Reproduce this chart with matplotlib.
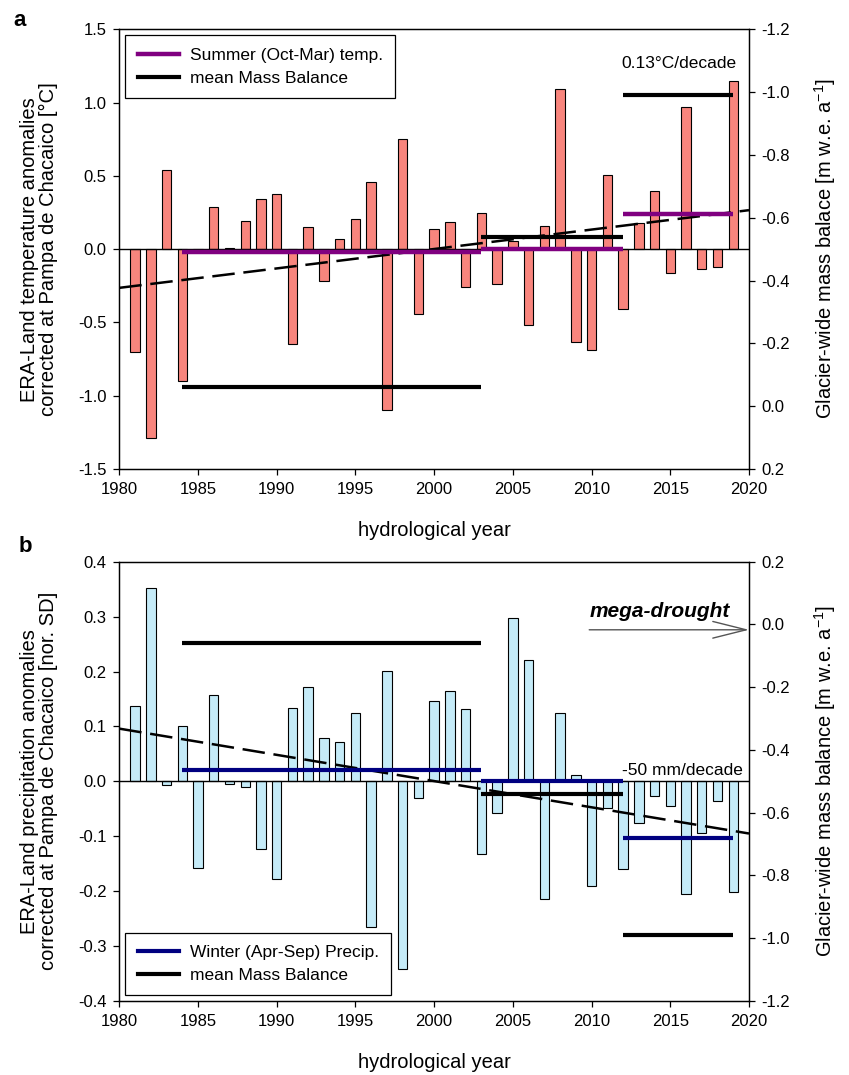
import matplotlib
matplotlib.use("Agg")
import matplotlib.pyplot as plt
from matplotlib.lines import Line2D
import numpy as np

plt.rcParams['font.family'] = ['Liberation Sans', 'DejaVu Sans']
plt.rcParams['mathtext.default'] = 'regular'
plt.rcParams['axes.unicode_minus'] = False

                                                # Data
years = np.arange(1981, 2020)

temp_anom = [-0.70, -1.29, 0.54, -0.90, -0.02, 0.29, 0.01, 0.19, 0.345, 0.375,
             -0.645, 0.15, -0.22, 0.07, 0.205, 0.455, -1.10, 0.75, -0.44, 0.14,
             0.185, -0.26, 0.25, -0.235, 0.055, -0.52, 0.155, 1.095, -0.635, -0.69,
             0.505, -0.41, 0.18, 0.40, -0.16, 0.97, -0.135, -0.12, 1.15]

precip_anom = [0.138, 0.352, -0.006, 0.101, -0.158, 0.157, -0.004, -0.011, -0.124, -0.177,
               0.134, 0.172, 0.079, 0.072, 0.125, -0.266, 0.201, -0.342, -0.030, 0.146,
               0.165, 0.132, -0.132, -0.058, 0.297, 0.221, -0.215, 0.124, 0.011, -0.191,
               -0.049, -0.159, -0.075, -0.027, -0.044, -0.205, -0.094, -0.035, -0.202]

period_start = [1984, 2003, 2012]
period_end = [2003, 2012, 2019]
summer_temp_mean = [-0.018, 0.0, 0.239]
winter_precip_mean = [0.021, 0.001, -0.104]
mass_balance_mean = [-0.06, -0.54, -0.99]

trend_years = [1980, 2020]
temp_trend = [-0.264, 0.266]
precip_trend = [0.096, -0.095]

temp_ticks = [-1.5, -1.0, -0.5, 0.0, 0.5, 1.0, 1.5]
precip_ticks = [-0.4, -0.3, -0.2, -0.1, 0.0, 0.1, 0.2, 0.3, 0.4]
mb_ticks = [-1.2, -1.0, -0.8, -0.6, -0.4, -0.2, 0.0, 0.2]
year_ticks = [1980, 1985, 1990, 1995, 2000, 2005, 2010, 2015, 2020]

W, H = 849, 1075
TICK_FS = 12
LABEL_FS = 14.5
LEG_FS = 12.5


def style_axis(ax, ax2):
    for a in (ax, ax2):
        for s in a.spines.values():
            s.set_linewidth(0.9)
    ax.tick_params(axis='both', direction='out', length=4, width=0.9, labelsize=TICK_FS, pad=5)
    ax2.tick_params(axis='y', direction='out', length=4, width=0.9, labelsize=TICK_FS, pad=5)
    ax.tick_params(top=False)
    ax.set_xlim(1980, 2020)
    ax.set_xticks(year_ticks)
    ax.xaxis.label.set_va('center')
    ax.xaxis.set_label_coords(0.5, -0.139)


def add_legend(ax, handles, labels, loc):
    leg = ax.legend(handles, labels, loc=loc, fontsize=LEG_FS, fancybox=False, framealpha=1,
                    edgecolor='black', handlelength=2.4, handletextpad=0.6, borderaxespad=0.35,
                    labelspacing=0.45, borderpad=0.7)
    leg.get_frame().set_linewidth(0.9)


fig = plt.figure(figsize=(W / 100, H / 100), dpi=100)

ax_left = 119.3 / W
ax_w = 629.7 / W

                                                # Panel a
axa = fig.add_axes([ax_left, 1 - 469 / H, ax_w, 439.7 / H])
axa2 = axa.twinx()
axa.bar(years, temp_anom, width=0.6, color='#F8857D', edgecolor='black', linewidth=0.8, zorder=2)
axa.axhline(0, color='black', lw=1, zorder=3)
axa.plot(trend_years, temp_trend, color='black', lw=1.8, dashes=(9, 3.5), zorder=4)
for x0, x1, v in zip(period_start, period_end, summer_temp_mean):
    axa.plot([x0, x1], [v, v], color='#800080', lw=3.2, solid_capstyle='butt', zorder=5)
for x0, x1, v in zip(period_start, period_end, mass_balance_mean):
    axa2.plot([x0, x1], [v, v], color='black', lw=3, solid_capstyle='butt', zorder=5)
axa.set_ylim(-1.5, 1.5)
axa.set_yticks(temp_ticks)
axa.set_yticklabels([f"{t:.1f}" for t in temp_ticks])
axa2.set_ylim(0.2, -1.2)
axa2.set_yticks(mb_ticks)
axa2.set_yticklabels([f"{t:.1f}" for t in mb_ticks])
style_axis(axa, axa2)
axa.set_xlabel("hydrological year", fontsize=LABEL_FS)
axa.set_ylabel("ERA-Land temperature anomalies\ncorrected at Pampa de Chacaico [°C]",
               fontsize=LABEL_FS, ha='center', va='center', linespacing=1.0)
axa.yaxis.set_label_coords(-0.128, 0.5)
axa2.set_ylabel("Glacier-wide mass balace [m w.e. a$^{-1}$]", fontsize=LABEL_FS,
                rotation=90, ha='center', va='center')
axa2.yaxis.set_label_coords(1.121, 0.5)
axa.text(2019.2, 1.268, "0.13°C/decade", fontsize=LEG_FS, ha='right', va='center')

add_legend(axa2, [Line2D([], [], color='#800080', lw=3.2), Line2D([], [], color='black', lw=3)],
           ["Summer (Oct-Mar) temp.", "mean Mass Balance"], 'upper left')

                                                # Panel b
axb = fig.add_axes([ax_left, 1 - 1001 / H, ax_w, 439.3 / H])
axb2 = axb.twinx()
axb.bar(years, precip_anom, width=0.6, color='#C5EBF8', edgecolor='black', linewidth=0.8, zorder=2)
axb.axhline(0, color='black', lw=1, zorder=3)
axb.plot(trend_years, precip_trend, color='black', lw=1.8, dashes=(9, 3.5), zorder=4)
for x0, x1, v in zip(period_start, period_end, winter_precip_mean):
    axb.plot([x0, x1], [v, v], color='#000080', lw=3, solid_capstyle='butt', zorder=5)
for x0, x1, v in zip(period_start, period_end, mass_balance_mean):
    axb2.plot([x0, x1], [v, v], color='black', lw=3, solid_capstyle='butt', zorder=5)
axb.set_ylim(-0.4, 0.4)
axb.set_yticks(precip_ticks)
axb.set_yticklabels([f"{t:.1f}" for t in precip_ticks])
axb2.set_ylim(-1.2, 0.2)
axb2.set_yticks(mb_ticks)
axb2.set_yticklabels([f"{t:.1f}" for t in mb_ticks])
style_axis(axb, axb2)
axb.set_xlabel("hydrological year", fontsize=LABEL_FS)
axb.set_ylabel("ERA-Land precipitation anomalies\ncorrected at Pampa de Chacaico [nor. SD]",
               fontsize=LABEL_FS, ha='center', va='center', linespacing=1.0)
axb.yaxis.set_label_coords(-0.128, 0.5)
axb2.set_ylabel("Glacier-wide mass balance [m w.e. a$^{-1}$]", fontsize=LABEL_FS,
                rotation=90, ha='center', va='center')
axb2.yaxis.set_label_coords(1.121, 0.5)
axb.text(2019.6, 0.006, "-50 mm/decade", fontsize=LEG_FS, ha='right', va='bottom')

axb.annotate("", xy=(2020, 0.276), xytext=(2009.85, 0.276),
             arrowprops=dict(arrowstyle='->,head_length=1.6,head_width=0.4', color='#555555',
                             lw=1, mutation_scale=15, shrinkA=0, shrinkB=0), zorder=6)
axb.text(2009.9, 0.31, "mega-drought", fontsize=15, fontweight='bold', style='italic',
         ha='left', va='center')

add_legend(axb2, [Line2D([], [], color='#000080', lw=3), Line2D([], [], color='black', lw=3)],
           ["Winter (Apr-Sep) Precip.", "mean Mass Balance"], 'lower left')

fig.text(20 / W, 1 - 20 / H, "a", fontsize=16, fontweight='bold', ha='center', va='center')
fig.text(25 / W, 1 - 547 / H, "b", fontsize=16, fontweight='bold', ha='center', va='center')

fig.savefig("out.png", dpi=100)
